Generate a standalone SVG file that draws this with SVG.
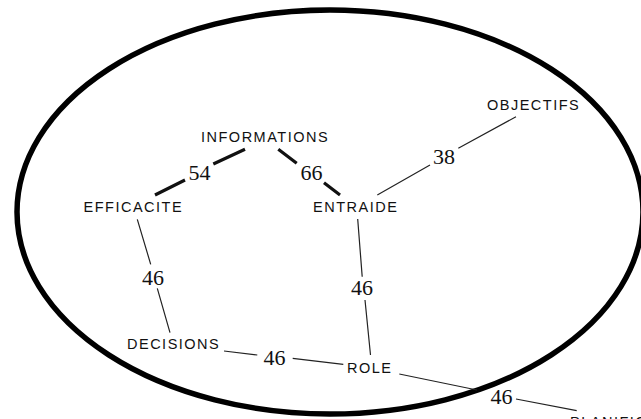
<svg xmlns="http://www.w3.org/2000/svg" width="641" height="419" viewBox="0 0 641 419">
<style>
.lbl{font-family:"Liberation Sans",Arial,sans-serif;font-size:14.5px;letter-spacing:1.5px;fill:#111}
.num{font-family:"Liberation Serif","Times New Roman",serif;font-size:22px;fill:#111}
.thin{fill:none;stroke:#222;stroke-width:1.2}
.thick{fill:none;stroke:#111;stroke-width:3.2}
</style>
<rect width="641" height="419" fill="#fff"/>
<g id="boundary">
<ellipse cx="330" cy="212" rx="313" ry="202" fill="none" stroke="#000" stroke-width="5.5"/>
</g>
<g id="connectors">
<path class="thick" d="M245,149.3 L213.3,164 M185,180 L155,195"/>
<path class="thick" d="M278.3,149.3 L296.7,163.3 M324,182.7 L340,195"/>
<path class="thin" d="M516,116.7 L458.3,148.3 M430,165 L377.3,195"/>
<path class="thin" d="M137.3,219.3 L150.7,264.3 M157.3,288.3 L170,332.7"/>
<path class="thin" d="M357.7,219 L362.2,276.7 M365,300 L370.5,355"/>
<path class="thin" d="M224,351 L257.3,355 M292.7,358.3 L343.3,364.3"/>
<path class="thin" d="M399.3,374 L477,390 M516,399 L576.7,410.7"/>
<text class="num" x="188.5" y="179.5">54</text>
<text class="num" x="300.5" y="180">66</text>
<text class="num" x="433" y="163.5">38</text>
<text class="num" x="142" y="285">46</text>
<text class="num" x="351" y="295">46</text>
<text class="num" x="263.5" y="365">46</text>
<text class="num" x="490.5" y="404">46</text>
</g>
<g id="informations"><text class="lbl" x="201" y="141.5">INFORMATIONS</text></g>
<g id="objectifs"><text class="lbl" x="487" y="109.5">OBJECTIFS</text></g>
<g id="efficacite"><text class="lbl" x="83.5" y="211.5">EFFICACITE</text></g>
<g id="entraide"><text class="lbl" x="313" y="211.5">ENTRAIDE</text></g>
<g id="decisions"><text class="lbl" x="127" y="349">DECISIONS</text></g>
<g id="role"><text class="lbl" x="347" y="372.5">ROLE</text></g>
<g id="planification"><text class="lbl" x="570" y="427">PLANIFIC</text></g>
</svg>
